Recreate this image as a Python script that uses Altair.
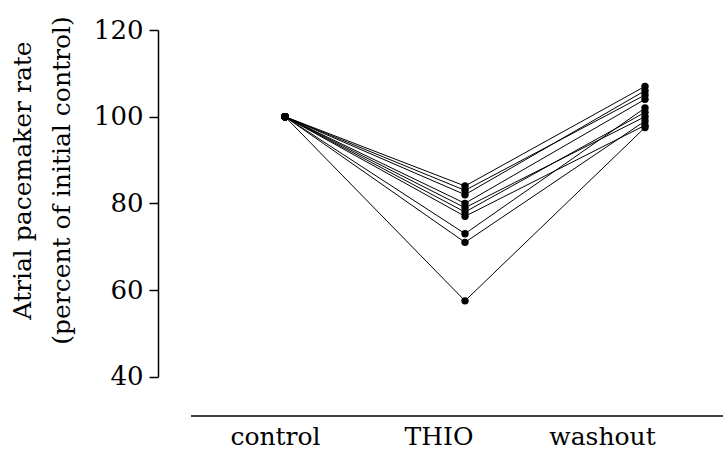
import altair as alt
import pandas as pd

categories = ["control", "THIO", "washout"]
subjects = ["s1", "s2", "s3", "s4", "s5", "s6", "s7", "s8", "s9", "s10"]
control_vals = [100, 100, 100, 100, 100, 100, 100, 100, 100, 100]
thio_vals = [84, 83, 82, 80, 79, 78, 77, 73, 71, 57.5]
washout_vals = [107, 105, 106, 104, 100, 101, 98, 102, 99, 97.5]
y_ticks = [40, 60, 80, 100, 120]

rows = []
for i, s in enumerate(subjects):
    rows.append({"subject": s, "phase": categories[0], "value": control_vals[i]})
    rows.append({"subject": s, "phase": categories[1], "value": thio_vals[i]})
    rows.append({"subject": s, "phase": categories[2], "value": washout_vals[i]})
df = pd.DataFrame(rows)

FONT = "DejaVu Serif"
W, H = 532, 386

yscale = alt.Scale(domain=[40, 120], range=[346.7, 0], zero=False, nice=False)
yaxis = alt.Axis(
    title=["Atrial pacemaker rate", "(percent of initial control)"],
    values=y_ticks,
    grid=False,
    offset=33,
    tickSize=9,
    tickWidth=1.5,
    tickColor="black",
    domainColor="black",
    domainWidth=1.5,
    labelFont=FONT,
    labelFontSize=26,
    labelColor="black",
    labelPadding=6,
    titleFont=FONT,
    titleFontSize=25,
    titleFontWeight="normal",
    titleColor="black",
    titleLineHeight=39,
    titleAngle=-90,
    titleAlign="center",
    titleBaseline="middle",
    titleX=-136,
    titleY=150,
)

base = alt.Chart(df).encode(
    x=alt.X("phase:N", sort=categories,
            scale=alt.Scale(type="point", domain=categories, range=[94, 454], padding=0),
            axis=None),
    y=alt.Y("value:Q", scale=yscale, axis=yaxis),
    detail="subject:N",
)
lines = base.mark_line(color="black", strokeWidth=1)
points = base.mark_circle(color="black", size=55, opacity=1)

label_layer = alt.Chart(pd.DataFrame({"phase": categories})).mark_point(opacity=0).encode(
    x=alt.X("phase:N", sort=categories,
            scale=alt.Scale(type="point", domain=categories, range=[84, 411], padding=0),
            axis=alt.Axis(title=None, orient="bottom", domain=False, ticks=False,
                          labelFont=FONT, labelFontSize=25, labelColor="black",
                          labelPadding=8, labelAngle=0)),
)

xline = alt.Chart(pd.DataFrame({"a": [0]})).mark_rule(color="black", strokeWidth=1.5).encode(
    x=alt.value(0), x2=alt.value(W), y=alt.value(H)
)

chart = alt.layer(xline, label_layer, lines, points).resolve_scale(
    x="independent"
).properties(
    width=W, height=H,
    autosize=alt.AutoSizeParams(type="none"),
    padding={"left": 191, "top": 30, "right": 0, "bottom": 33},
    background="white",
).configure_view(stroke=None)

chart.save("out.html", embed_options={"renderer": "svg", "actions": False})
